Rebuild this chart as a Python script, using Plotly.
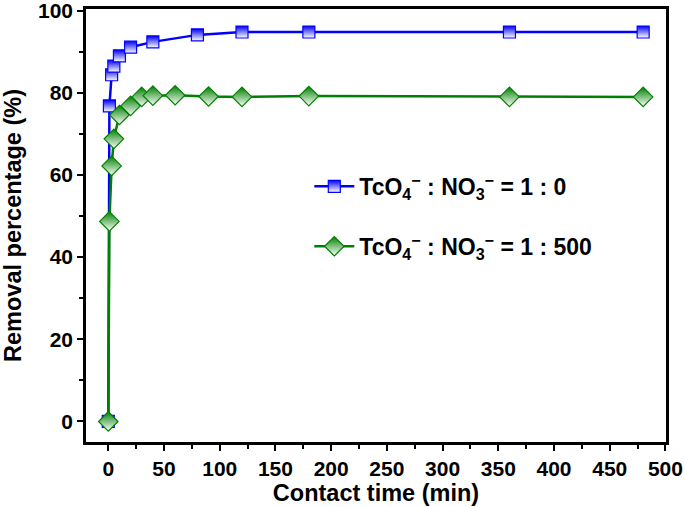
import plotly.graph_objects as go

time_a = [0, 1, 3, 5, 10, 20, 40, 80, 120, 180, 360, 480]
removal_a = [0, 76.8, 84.4, 86.5, 89.0, 91.1, 92.4, 94.1, 94.8, 94.8, 94.8, 94.8]

time_b = [0, 1, 3, 5, 10, 20, 30, 40, 60, 90, 120, 180, 360, 480]
removal_b = [0, 48.7, 62.2, 68.8, 74.6, 76.8, 79.0, 79.3, 79.4, 79.1, 79.0, 79.2, 79.0, 79.0]

name_a = "TcO<sub>4</sub><sup>−</sup> : NO<sub>3</sub><sup>−</sup> = 1 : 0"
name_b = "TcO<sub>4</sub><sup>−</sup> : NO<sub>3</sub><sup>−</sup> = 1 : 500"

font_family = "Liberation Sans, Arial, sans-serif"

fig = go.Figure()
fig.add_trace(go.Scatter(
    x=time_a, y=removal_a, mode="lines+markers", name=name_a, legendgroup="a",
    line=dict(color="#0000ff", width=2.5),
    marker=dict(symbol="square", size=12, color="#0000ff",
                gradient=dict(type="vertical", color="white"),
                line=dict(color="#0000ff", width=1.2)),
    cliponaxis=False,
))
fig.add_trace(go.Scatter(
    x=time_b, y=removal_b, mode="lines+markers", name=name_b, legendgroup="b",
    line=dict(color="#008000", width=2.5),
    marker=dict(symbol="diamond", size=15, color="#008000",
                gradient=dict(type="vertical", color="white"),
                line=dict(color="#008000", width=1.2)),
    cliponaxis=False,
))

axis_common = dict(
    showline=True, linecolor="black", linewidth=2.5, mirror=True,
    ticks="outside", ticklen=6, tickwidth=2, tickcolor="black",
    showgrid=False, zeroline=False, automargin=False, ticklabeloverflow="allow",
    tickfont=dict(family=font_family, size=21, color="black", weight="bold"),
)

fig.update_layout(
    width=685, height=507,
    margin=dict(l=86, r=19, t=9, b=65),
    plot_bgcolor="white", paper_bgcolor="white",
    font=dict(family=font_family, color="black"),
    xaxis=dict(
        range=[-20, 500.5], tickvals=[0, 50, 100, 150, 200, 250, 300, 350, 400, 450, 500],
        minor=dict(tickvals=[25, 75, 125, 175, 225, 275, 325, 375, 425, 475],
                   ticks="outside", ticklen=4, tickwidth=2, tickcolor="black"),
        title=dict(text="<b>Contact time (min)</b>", font=dict(size=23.5, family=font_family), standoff=4),
        **axis_common,
    ),
    yaxis=dict(
        range=[-5, 100.4], tickvals=[0, 20, 40, 60, 80, 100],
        minor=dict(tickvals=[10, 30, 50, 70, 90],
                   ticks="outside", ticklen=4, tickwidth=2, tickcolor="black"),
        title=dict(text="<b>Removal percentage (%)</b>", font=dict(size=23.5, family=font_family), standoff=14),
        **axis_common,
    ),
    legend=dict(
        x=0.385, y=0.64, xanchor="left", yanchor="top",
        traceorder="grouped", tracegroupgap=27,
        font=dict(size=23, family=font_family, color="black", weight="bold"),
        bgcolor="rgba(0,0,0,0)", itemwidth=40,
    ),
)

fig.write_html("out.html", post_script="document.body.style.margin='0px';",
               config={"displayModeBar": False})
